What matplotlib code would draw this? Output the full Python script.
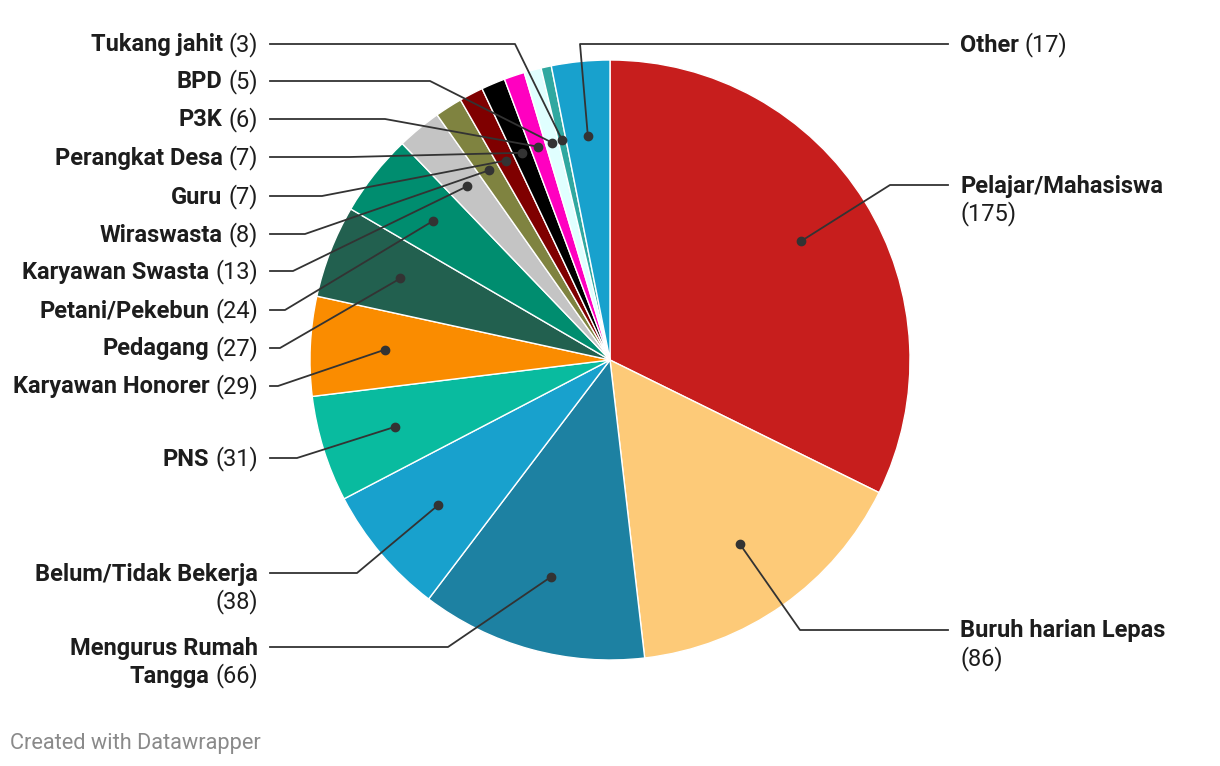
import numpy as np
import matplotlib
matplotlib.use("Agg")
import matplotlib.pyplot as plt

plt.rcParams['font.family'] = ['Roboto', 'DejaVu Sans']

# data, clockwise from 12 o'clock
categories = ['Pelajar/Mahasiswa', 'Buruh harian Lepas', 'Mengurus Rumah Tangga',
              'Belum/Tidak Bekerja', 'PNS', 'Karyawan Honorer', 'Pedagang',
              'Petani/Pekebun', 'Karyawan Swasta', 'Wiraswasta', 'Guru',
              'Perangkat Desa', 'P3K', 'BPD', 'Tukang jahit', 'Other']
values = [175, 86, 66, 38, 31, 29, 27, 24, 13, 8, 7, 7, 6, 5, 3, 17]
colors = ['#c71e1d', '#fdca78', '#1d81a2', '#18a1cd', '#09bb9f', '#fa8c00',
          '#22604f', '#008d6f', '#c4c4c4', '#7f8340', '#7f0000', '#000000',
          '#ff00c0', '#e0ffff', '#30a8a0', '#18a1cd']

# label layout: side, label y, elbow x, line breaks
layout = {
    'Pelajar/Mahasiswa': ('R', 186, 890, ['Pelajar/Mahasiswa'], 'next'),
    'Buruh harian Lepas': ('R', 631, 800, ['Buruh harian Lepas'], 'next'),
    'Mengurus Rumah Tangga': ('L', 648, 448, ['Mengurus Rumah', 'Tangga'], 'same'),
    'Belum/Tidak Bekerja': ('L', 574, 357, ['Belum/Tidak Bekerja'], 'next'),
    'PNS': ('L', 459, 297, ['PNS'], 'same'),
    'Karyawan Honorer': ('L', 387, 278, ['Karyawan Honorer'], 'same'),
    'Pedagang': ('L', 349, 280, ['Pedagang'], 'same'),
    'Petani/Pekebun': ('L', 311, 285, ['Petani/Pekebun'], 'same'),
    'Karyawan Swasta': ('L', 272, 293, ['Karyawan Swasta'], 'same'),
    'Wiraswasta': ('L', 235, 305, ['Wiraswasta'], 'same'),
    'Guru': ('L', 197, 322, ['Guru'], 'same'),
    'Perangkat Desa': ('L', 158, 350, ['Perangkat Desa'], 'same'),
    'P3K': ('L', 120, 385, ['P3K'], 'same'),
    'BPD': ('L', 82, 430, ['BPD'], 'same'),
    'Tukang jahit': ('L', 45, 515, ['Tukang jahit'], 'same'),
    'Other': ('R', 45, 580, ['Other'], 'same'),
}

W, H = 1220, 766
fig = plt.figure(figsize=(W / 100, H / 100), dpi=100)
ax = fig.add_axes([0, 0, 1, 1])
cx, cy, r = 610, 360, 300

wedges, _ = ax.pie(values, colors=colors, startangle=-90, counterclock=True,
                   center=(cx, cy), radius=r,
                   wedgeprops=dict(edgecolor='white', linewidth=1))
ax.set_xlim(0, W)
ax.set_ylim(H, 0)
ax.set_aspect('equal')
ax.axis('off')

fig.canvas.draw()
renderer = fig.canvas.get_renderer()
fs = 17
lh = 28
txt_col = '#1d1d1d'


def width_px(s, weight):
    t = ax.text(0, 0, s, fontsize=fs, fontweight=weight)
    w = t.get_window_extent(renderer).width
    t.remove()
    return w


space = width_px('a b', 'normal') - width_px('ab', 'normal')

for name, val, w in zip(categories, values, wedges):
    side, ly, ex, lines, cpos = layout[name]
    mid = np.deg2rad((w.theta1 + w.theta2) / 2)
    dx, dy = cx + 0.75 * r * np.cos(mid), cy + 0.75 * r * np.sin(mid)
    count = f'({val})'
    if side == 'L':
        lx = 270
        ax.plot([lx, ex, dx], [ly - 1, ly - 1, dy], color='#333333', lw=1.3, zorder=3)
        for i, line in enumerate(lines):
            y = ly + i * lh
            last = i == len(lines) - 1
            if last and cpos == 'same':
                ax.text(258, y, count, fontsize=fs, ha='right', va='center', color=txt_col)
                cw = width_px(count, 'normal')
                ax.text(258 - cw - space, y, line, fontsize=fs, fontweight='bold',
                        ha='right', va='center', color=txt_col)
            else:
                ax.text(258, y, line, fontsize=fs, fontweight='bold',
                        ha='right', va='center', color=txt_col)
        if cpos == 'next':
            ax.text(258, ly + len(lines) * lh, count, fontsize=fs, ha='right',
                    va='center', color=txt_col)
    else:
        lx = 948
        ax.plot([lx, ex, dx], [ly - 1, ly - 1, dy], color='#333333', lw=1.3, zorder=3)
        for i, line in enumerate(lines):
            y = ly + i * lh
            ax.text(960, y, line, fontsize=fs, fontweight='bold', ha='left',
                    va='center', color=txt_col)
            if i == len(lines) - 1 and cpos == 'same':
                bw = width_px(line, 'bold')
                ax.text(960 + bw + space, y, count, fontsize=fs, ha='left',
                        va='center', color=txt_col)
        if cpos == 'next':
            ax.text(960, ly + len(lines) * lh, count, fontsize=fs, ha='left',
                    va='center', color=txt_col)
    ax.plot(dx, dy, 'o', color='#333333', ms=6, zorder=4)

ax.text(10, 743, 'Created with Datawrapper', fontsize=15.7, color='#8a8a8a',
        ha='left', va='center')

fig.savefig('out.png', dpi=100)
